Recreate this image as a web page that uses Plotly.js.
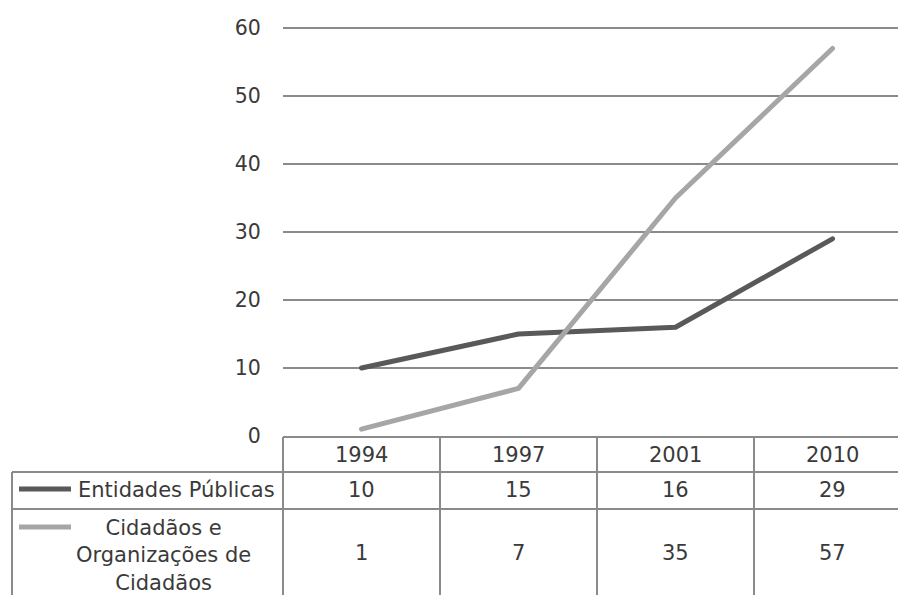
<!DOCTYPE html>
<html>
<head>
<meta charset="utf-8">
<script src="https://cdn.plot.ly/plotly-3.0.1.min.js"></script>
<style>
html,body{margin:0;padding:0;background:#fff;}
#chart{width:898px;height:595px;}
#chart .js-line{stroke-linecap:round !important;stroke-linejoin:round !important;}
</style>
</head>
<body>
<div id="chart"></div>
<script>
// ---- data ----
const years = ["1994", "1997", "2001", "2010"];
const seriesNames = ["Entidades Públicas", "Cidadãos e<br>Organizações de<br>Cidadãos"];
const entidadesPublicas = [10, 15, 16, 29];
const cidadaosOrganizacoes = [1, 7, 35, 57];
const yTicks = [0, 10, 20, 30, 40, 50, 60];

// ---- layout constants (pixels) ----
const W = 898, H = 595;
const plotLeft = 283, plotTop = 26, plotBottom = 436;
const yMax = 60.3;
const colW = 157;
const plotH = plotBottom - plotTop;
const py = p => (plotBottom - p) / plotH;        // pixel y -> paper y
const px = p => (p - plotLeft) / (W - plotLeft); // pixel x -> paper x

const txt = '#3a3a3a';
const font = {family: 'DejaVu Sans, Verdana, sans-serif', size: 21, color: txt};
const tickFont = {family: 'DejaVu Sans, Verdana, sans-serif', size: 20.5, color: txt};
const colors = ['#595959', '#a6a6a6'];
const seriesValues = [entidadesPublicas, cidadaosOrganizacoes];

const traces = seriesValues.map((vals, i) => ({
  type: 'scatter', mode: 'lines', x: years, y: vals, name: seriesNames[i],
  line: {color: colors[i], width: 5}, hoverinfo: 'skip'
}));

// table geometry
const tTop = 437, r1 = 472, r2 = 509, tBot = 600, tLeft = 12;
const gridCol = '#8a8a8a';
const shapes = [];
const ln = (x0, y0, x1, y1) => shapes.push({type: 'line', xref: 'paper', yref: 'paper',
  x0: x0, x1: x1, y0: py(y0), y1: py(y1), line: {color: gridCol, width: 2}, layer: 'above'});
ln(px(plotLeft), tTop, 1.05, tTop);
ln(px(tLeft), r1, 1.05, r1);
ln(px(tLeft), r2, 1.05, r2);
ln(px(tLeft), r1, px(tLeft), tBot);
ln(px(plotLeft), tTop, px(plotLeft), tBot);
for (let k = 1; k < years.length; k++) ln(px(plotLeft + k * colW), tTop, px(plotLeft + k * colW), tBot);
// legend keys
shapes.push({type: 'line', xref: 'paper', yref: 'paper', x0: px(19), x1: px(71), y0: py(489), y1: py(489),
  line: {color: colors[0], width: 5}});
shapes.push({type: 'line', xref: 'paper', yref: 'paper', x0: px(19), x1: px(71), y0: py(527), y1: py(527),
  line: {color: colors[1], width: 5}});

const annotations = [];
years.forEach((yr, i) => {
  annotations.push({xref: 'x', yref: 'paper', x: i, y: py(455), text: yr, showarrow: false, font: font, xanchor: 'center', yanchor: 'middle'});
  annotations.push({xref: 'x', yref: 'paper', x: i, y: py(490), text: String(entidadesPublicas[i]), showarrow: false, font: font, xanchor: 'center', yanchor: 'middle'});
  annotations.push({xref: 'x', yref: 'paper', x: i, y: py(553), text: String(cidadaosOrganizacoes[i]), showarrow: false, font: font, xanchor: 'center', yanchor: 'middle'});
});
annotations.push({xref: 'paper', yref: 'paper', x: px(176), y: py(490), text: seriesNames[0], showarrow: false, font: font, xanchor: 'center', yanchor: 'middle'});
annotations.push({xref: 'paper', yref: 'paper', x: px(163), y: py(555), text: seriesNames[1], showarrow: false, font: font, xanchor: 'center', yanchor: 'middle', align: 'center'});

const layout = {
  width: W, height: H,
  margin: {l: plotLeft, r: 0, t: plotTop, b: H - plotBottom, pad: 0},
  paper_bgcolor: '#fff', plot_bgcolor: '#fff',
  showlegend: false,
  font: font,
  xaxis: {type: 'category', range: [-0.5, -0.5 + (W - plotLeft) / colW], showticklabels: false,
    showgrid: false, zeroline: false, showline: false, ticks: ''},
  yaxis: {range: [0, yMax], tickvals: yTicks, ticktext: yTicks.map(String), showgrid: true, gridcolor: gridCol, gridwidth: 1.5,
    zeroline: false, showline: false, ticks: 'outside', ticklen: 17, tickcolor: 'rgba(0,0,0,0)',
    tickfont: tickFont},
  shapes: shapes,
  annotations: annotations
};

Plotly.newPlot('chart', traces, layout, {displayModeBar: false, staticPlot: true});
</script>
</body>
</html>
